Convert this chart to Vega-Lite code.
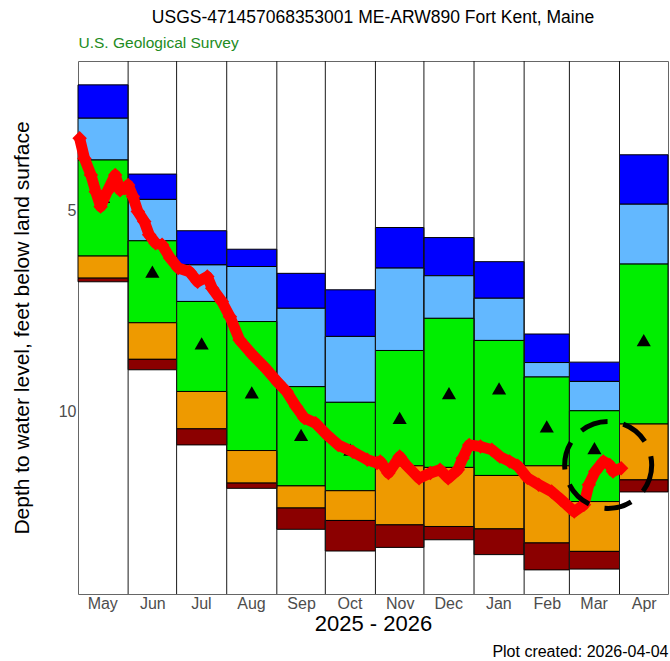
{
  "$schema": "https://vega.github.io/schema/vega-lite/v6.json",
  "width": 590,
  "height": 533,
  "autosize": {"type": "none"},
  "padding": {"left": 78, "top": 61, "right": 2, "bottom": 67},
  "background": "white",
  "config": {
    "font": "Liberation Sans",
    "view": {"stroke": "#666666", "strokeWidth": 1, "fill": "white"}
  },
  "title": {
    "text": "USGS-471457068353001 ME-ARW890 Fort Kent, Maine",
    "anchor": "middle",
    "fontSize": 17.5,
    "fontWeight": "normal",
    "color": "black",
    "offset": 9
  },
  "datasets": {
    "months": [
      {"mon": "May", "start": "2025-05-01", "end": "2025-06-01", "p100": 1.87, "p90": 2.70, "p75": 3.74, "p25": 6.13, "p10": 6.68, "p0": 6.77, "p50": 4.66},
      {"mon": "Jun", "start": "2025-06-01", "end": "2025-07-01", "p100": 4.09, "p90": 4.72, "p75": 5.75, "p25": 7.79, "p10": 8.70, "p0": 8.96, "p50": 6.52},
      {"mon": "Jul", "start": "2025-07-01", "end": "2025-08-01", "p100": 5.50, "p90": 6.35, "p75": 7.26, "p25": 9.50, "p10": 10.43, "p0": 10.83, "p50": 8.30},
      {"mon": "Aug", "start": "2025-08-01", "end": "2025-09-01", "p100": 5.96, "p90": 6.39, "p75": 7.76, "p25": 10.97, "p10": 11.78, "p0": 11.91, "p50": 9.52},
      {"mon": "Sep", "start": "2025-09-01", "end": "2025-10-01", "p100": 6.56, "p90": 7.43, "p75": 9.38, "p25": 11.85, "p10": 12.40, "p0": 12.93, "p50": 10.58},
      {"mon": "Oct", "start": "2025-10-01", "end": "2025-11-01", "p100": 6.97, "p90": 8.13, "p75": 9.77, "p25": 11.97, "p10": 12.71, "p0": 13.47, "p50": 10.95},
      {"mon": "Nov", "start": "2025-11-01", "end": "2025-12-01", "p100": 5.42, "p90": 6.43, "p75": 8.48, "p25": 11.35, "p10": 12.82, "p0": 13.38, "p50": 10.16},
      {"mon": "Dec", "start": "2025-12-01", "end": "2026-01-01", "p100": 5.67, "p90": 6.62, "p75": 7.68, "p25": 11.39, "p10": 12.86, "p0": 13.19, "p50": 9.54},
      {"mon": "Jan", "start": "2026-01-01", "end": "2026-02-01", "p100": 6.27, "p90": 7.18, "p75": 8.23, "p25": 11.59, "p10": 12.92, "p0": 13.56, "p50": 9.42},
      {"mon": "Feb", "start": "2026-02-01", "end": "2026-03-01", "p100": 8.07, "p90": 8.78, "p75": 9.14, "p25": 11.35, "p10": 13.27, "p0": 13.94, "p50": 10.37},
      {"mon": "Mar", "start": "2026-03-01", "end": "2026-04-01", "p100": 8.77, "p90": 9.25, "p75": 9.98, "p25": 12.24, "p10": 13.48, "p0": 13.92, "p50": 10.91},
      {"mon": "Apr", "start": "2026-04-01", "end": "2026-05-01", "p100": 3.61, "p90": 4.84, "p75": 6.33, "p25": 10.31, "p10": 11.70, "p0": 12.00, "p50": 8.22}
    ],
    "levels": [
      {"date": "2025-05-02", "depth": 3.20},
      {"date": "2025-05-05", "depth": 3.70},
      {"date": "2025-05-09", "depth": 4.11},
      {"date": "2025-05-12", "depth": 4.53},
      {"date": "2025-05-15", "depth": 4.90},
      {"date": "2025-05-19", "depth": 4.53},
      {"date": "2025-05-24", "depth": 4.11},
      {"date": "2025-05-27", "depth": 4.49},
      {"date": "2025-05-30", "depth": 4.44},
      {"date": "2025-06-01", "depth": 4.36},
      {"date": "2025-06-04", "depth": 4.65},
      {"date": "2025-06-07", "depth": 5.02},
      {"date": "2025-06-11", "depth": 5.27},
      {"date": "2025-06-14", "depth": 5.60},
      {"date": "2025-06-18", "depth": 5.81},
      {"date": "2025-06-22", "depth": 5.85},
      {"date": "2025-06-27", "depth": 6.18},
      {"date": "2025-07-02", "depth": 6.43},
      {"date": "2025-07-09", "depth": 6.52},
      {"date": "2025-07-14", "depth": 6.77},
      {"date": "2025-07-20", "depth": 6.64},
      {"date": "2025-07-23", "depth": 6.93},
      {"date": "2025-07-29", "depth": 7.26},
      {"date": "2025-08-03", "depth": 7.64},
      {"date": "2025-08-09", "depth": 8.22},
      {"date": "2025-08-17", "depth": 8.59},
      {"date": "2025-08-25", "depth": 8.92},
      {"date": "2025-09-02", "depth": 9.29},
      {"date": "2025-09-07", "depth": 9.50},
      {"date": "2025-09-13", "depth": 9.88},
      {"date": "2025-09-18", "depth": 10.16},
      {"date": "2025-09-25", "depth": 10.29},
      {"date": "2025-10-02", "depth": 10.58},
      {"date": "2025-10-09", "depth": 10.83},
      {"date": "2025-10-18", "depth": 11.00},
      {"date": "2025-10-27", "depth": 11.20},
      {"date": "2025-11-02", "depth": 11.28},
      {"date": "2025-11-04", "depth": 11.24},
      {"date": "2025-11-09", "depth": 11.53},
      {"date": "2025-11-16", "depth": 11.12},
      {"date": "2025-11-20", "depth": 11.33},
      {"date": "2025-11-28", "depth": 11.66},
      {"date": "2025-12-05", "depth": 11.53},
      {"date": "2025-12-11", "depth": 11.45},
      {"date": "2025-12-16", "depth": 11.66},
      {"date": "2025-12-22", "depth": 11.45},
      {"date": "2025-12-25", "depth": 11.16},
      {"date": "2025-12-29", "depth": 10.83},
      {"date": "2026-01-05", "depth": 10.87},
      {"date": "2026-01-12", "depth": 10.95},
      {"date": "2026-01-17", "depth": 11.12},
      {"date": "2026-01-23", "depth": 11.24},
      {"date": "2026-01-28", "depth": 11.35},
      {"date": "2026-02-03", "depth": 11.65},
      {"date": "2026-02-10", "depth": 11.82},
      {"date": "2026-02-18", "depth": 11.99},
      {"date": "2026-02-24", "depth": 12.20},
      {"date": "2026-03-04", "depth": 12.49},
      {"date": "2026-03-10", "depth": 12.32},
      {"date": "2026-03-13", "depth": 11.82},
      {"date": "2026-03-17", "depth": 11.49},
      {"date": "2026-03-22", "depth": 11.24},
      {"date": "2026-03-26", "depth": 11.33},
      {"date": "2026-03-28", "depth": 11.49},
      {"date": "2026-04-02", "depth": 11.41}
    ],
    "latest": [
      {"date": "2026-03-25", "depth": 11.33}
    ]
  },
  "resolve": {"axis": {"x": "independent", "y": "shared"}},
  "layer": [
    {
      "data": {"name": "months"},
      "mark": {"type": "rect", "color": "#0000FF", "stroke": "black", "strokeWidth": 1},
      "encoding": {
        "x": {
          "field": "start", "type": "temporal",
          "scale": {"type": "utc", "domain": [{"year": 2025, "month": 5, "date": 1, "utc": true}, {"year": 2026, "month": 5, "date": 1, "utc": true}], "nice": false},
          "axis": {
            "orient": "bottom",
            "values": [
              {"year": 2025, "month": 5, "date": 16, "utc": true},
              {"year": 2025, "month": 6, "date": 16, "utc": true},
              {"year": 2025, "month": 7, "date": 16, "utc": true},
              {"year": 2025, "month": 8, "date": 16, "utc": true},
              {"year": 2025, "month": 9, "date": 16, "utc": true},
              {"year": 2025, "month": 10, "date": 16, "utc": true},
              {"year": 2025, "month": 11, "date": 16, "utc": true},
              {"year": 2025, "month": 12, "date": 16, "utc": true},
              {"year": 2026, "month": 1, "date": 16, "utc": true},
              {"year": 2026, "month": 2, "date": 15, "utc": true},
              {"year": 2026, "month": 3, "date": 16, "utc": true},
              {"year": 2026, "month": 4, "date": 16, "utc": true}
            ],
            "format": "%b",
            "ticks": false, "domain": false, "grid": false,
            "labelFontSize": 16, "labelColor": "#4d4d4d", "labelPadding": 1,
            "labelFlush": false, "labelOverlap": false,
            "title": "2025 - 2026", "titleFontSize": 22, "titleFontWeight": "normal",
            "titleColor": "black", "titlePadding": 2
          }
        },
        "x2": {"field": "end"},
        "y": {
          "field": "p100", "type": "quantitative",
          "scale": {"domain": [1.276, 14.54], "reverse": true, "nice": false, "zero": false},
          "axis": {
            "orient": "left",
            "values": [5, 10], "ticks": false, "domain": false, "grid": false,
            "labelFontSize": 16, "labelColor": "#4d4d4d", "labelPadding": 2,
            "title": "Depth to water level, feet below land surface",
            "titleFontSize": 21, "titleFontWeight": "normal", "titleColor": "black",
            "titlePadding": 26
          }
        },
        "y2": {"field": "p90"}
      }
    },
    {
      "data": {"name": "months"},
      "mark": {"type": "rect", "color": "#63B8FF", "stroke": "black", "strokeWidth": 1},
      "encoding": {
        "x": {
          "field": "start", "type": "temporal", "scale": {"type": "utc"},
          "axis": {
            "orient": "top", "labels": false, "ticks": false, "domain": false, "grid": false,
            "title": "U.S. Geological Survey", "titleAnchor": "start", "titleAlign": "left",
            "titleColor": "#228B22", "titleFontSize": 15.5, "titleFontWeight": "normal",
            "titlePadding": 11
          }
        },
        "x2": {"field": "end"},
        "y": {"field": "p90", "type": "quantitative"},
        "y2": {"field": "p75"}
      }
    },
    {
      "data": {"name": "months"},
      "mark": {"type": "rect", "color": "#00EE00", "stroke": "black", "strokeWidth": 1},
      "encoding": {
        "x": {
          "field": "start", "type": "temporal", "scale": {"type": "utc"},
          "axis": {
            "orient": "bottom", "labels": false, "ticks": false, "domain": false, "grid": false,
            "title": "Plot created: 2026-04-04", "titleAnchor": "end", "titleAlign": "right",
            "titleColor": "black", "titleFontSize": 16, "titleFontWeight": "normal",
            "titlePadding": 49
          }
        },
        "x2": {"field": "end"},
        "y": {"field": "p75", "type": "quantitative"},
        "y2": {"field": "p25"}
      }
    },
    {
      "data": {"name": "months"},
      "mark": {"type": "rect", "color": "#EE9A00", "stroke": "black", "strokeWidth": 1},
      "encoding": {
        "x": {"field": "start", "type": "temporal", "scale": {"type": "utc"}, "axis": null},
        "x2": {"field": "end"},
        "y": {"field": "p25", "type": "quantitative"},
        "y2": {"field": "p10"}
      }
    },
    {
      "data": {"name": "months"},
      "mark": {"type": "rect", "color": "#8B0000", "stroke": "black", "strokeWidth": 1},
      "encoding": {
        "x": {"field": "start", "type": "temporal", "scale": {"type": "utc"}, "axis": null},
        "x2": {"field": "end"},
        "y": {"field": "p10", "type": "quantitative"},
        "y2": {"field": "p0"}
      }
    },
    {
      "data": {"name": "months"},
      "transform": [{"filter": "datum.mon != 'May'"}],
      "mark": {"type": "rule", "color": "#1a1a1a", "strokeWidth": 1},
      "encoding": {
        "x": {"field": "start", "type": "temporal", "scale": {"type": "utc"}, "axis": null}
      }
    },
    {
      "data": {"name": "months"},
      "mark": {"type": "point", "shape": "triangle-up", "filled": true, "color": "black", "size": 200, "opacity": 1},
      "encoding": {
        "x": {"field": "start", "type": "temporal", "timeUnit": "utcyearmonth", "bandPosition": 0.5, "scale": {"type": "utc"}, "axis": null},
        "y": {"field": "p50", "type": "quantitative"}
      }
    },
    {
      "data": {"name": "levels"},
      "mark": {"type": "line", "color": "#FF0000", "strokeWidth": 11, "strokeJoin": "round"},
      "encoding": {
        "x": {"field": "date", "type": "temporal", "scale": {"type": "utc"}, "axis": null},
        "y": {"field": "depth", "type": "quantitative"}
      }
    },
    {
      "data": {"name": "levels"},
      "mark": {"type": "point", "shape": "diamond", "filled": true, "color": "#FF0000", "size": 210, "opacity": 1},
      "encoding": {
        "x": {"field": "date", "type": "temporal", "scale": {"type": "utc"}, "axis": null},
        "y": {"field": "depth", "type": "quantitative"}
      }
    },
    {
      "data": {"name": "latest"},
      "mark": {"type": "point", "shape": "circle", "filled": false, "stroke": "black", "strokeWidth": 5, "strokeDash": [28, 16], "size": 7569, "opacity": 1},
      "encoding": {
        "x": {"field": "date", "type": "temporal", "scale": {"type": "utc"}, "axis": null},
        "y": {"field": "depth", "type": "quantitative"}
      }
    }
  ]
}
